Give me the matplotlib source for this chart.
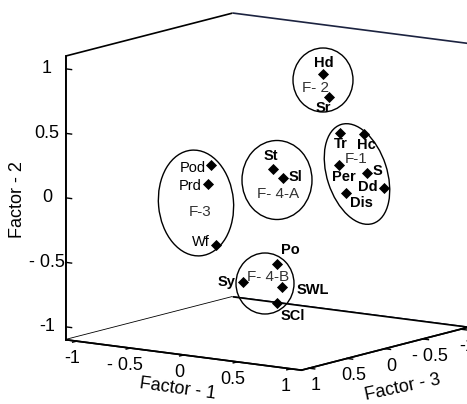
import numpy as np
import matplotlib
matplotlib.use('Agg')
import matplotlib.pyplot as plt
from matplotlib.patches import Ellipse
from mpl_toolkits.mplot3d import proj3d

plt.rcParams['font.family'] = ['Liberation Sans', 'DejaVu Sans']

# ---------------- data ----------------
labels  = ['Hd', 'Sr', 'Tr', 'Hc', 'Per', 'S', 'Dd', 'Dis', 'St', 'Sl',
           'Pod', 'Prd', 'Wf', 'Po', 'Sy', 'SWL', 'SCl']
factor1 = [0.38, 0.44, 0.82, 0.83, 0.81, 0.86, 0.88, 0.81, 0.27, 0.36,
           0.04, 0.01, 0.09, 0.23, -0.08, 0.28, 0.23]
factor2 = [0.92, 0.75, 0.57, 0.52, 0.32, 0.22, 0.08, 0.09, 0.25, 0.19,
           0.33, 0.18, -0.28, -0.51, -0.68, -0.68, -0.81]
factor3 = [-0.2, -0.2, 0.2, -0.1, 0.2, -0.1, -0.3, 0.1, 0.3, 0.3,
           0.8, 0.8, 0.8, 0.2, 0.2, 0.2, 0.2]
bold_labels = [True] * 10 + [False] * 3 + [True] * 4

tick_vals = [-1, -0.5, 0, 0.5, 1]
tick_text = ['-1', '- 0.5', '0', '0.5', '1']

group_names = ['F- 2', 'F-1', 'F- 4-A', 'F-3', 'F- 4-B']
axis_titles = ['Factor - 1', 'Factor - 2', 'Factor - 3']

# ---------------- layout (pixels, y down) ----------------
W, H = 467, 404
label_offsets = {  # (dx, dy, ha)
    'Hd': (1, -11, 'center'), 'Sr': (-6, 11, 'center'), 'Tr': (1, 11, 'center'),
    'Hc': (3, 11, 'center'), 'Per': (5, 12, 'center'), 'S': (11, -2, 'center'),
    'Dd': (-16, -1, 'center'), 'Dis': (15, 10, 'center'), 'St': (-2, -13, 'center'),
    'Sl': (13, -1, 'center'), 'Pod': (-5, 3, 'right'), 'Prd': (-6, 2, 'right'),
    'Wf': (-6, -3, 'right'), 'Po': (14, -14, 'center'), 'Sy': (-8, 0, 'right'),
    'SWL': (15, 3, 'left'), 'SCl': (16, 13, 'center'),
}
group_text_pos = [(315, 88), (356, 159), (278, 194), (200, 212), (268, 277)]
ellipses = [  # cx, cy, w, h, angle
    (323, 80, 60, 64, 0),
    (357, 174, 60, 104, -18),
    (277, 180, 70, 79, 0),
    (196, 203, 75, 106, -5),
    (265, 283.5, 58, 61, 0),
]
title_pos = [(178, 389, -8), (17, 200, 90), (403, 388, 12)]
zlabel_dx = -19

fig = plt.figure(figsize=(W / 100, H / 100), dpi=100)
side = 560.0
base_l, base_b = (W - side) / 2, (H - side) / 2
ax = fig.add_axes([base_l / W, base_b / H, side / W, side / H],
                  projection='3d', proj_type='ortho')
ax.view_init(elev=10.5, azim=-54.7)
ax.set_xlim(-1.1, 1.1)
ax.set_ylim(1.1, -1.1)
ax.set_zlim(-1.1, 1.1)
ax.set_box_aspect((1, 1, 1), zoom=1.0)

ax.scatter(factor1, factor3, factor2, marker='D', s=32, c='black',
           depthshade=False, clip_on=False, linewidths=0)

for a in (ax.xaxis, ax.yaxis, ax.zaxis):
    a.set_pane_color((1, 1, 1, 1))
    a.pane.set_edgecolor('black')
    a.pane.set_linewidth(1.2)
    a.line.set_color('black')
    a.line.set_linewidth(1.2)
    a._axinfo['tick']['inward_factor'] = 0.3
    a._axinfo['tick']['outward_factor'] = 0.0
    a._axinfo['tick']['linewidth'] = {True: 1.0, False: 0.5}
    a._axinfo['tick']['color'] = 'black'
ax.yaxis.pane.set_edgecolor('#1c2340')
ax.grid(False)
ax.zaxis.set_ticks_position('upper')
ax.zaxis.set_label_position('upper')

ax.set_xticks(tick_vals)
ax.set_xticklabels(tick_text)
ax.set_yticks(tick_vals)
ax.set_yticklabels(tick_text)
ax.set_zticks(tick_vals)
ax.set_zticklabels([''] * len(tick_vals))
ax.tick_params(axis='both', labelsize=13, colors='black', pad=-2)


def to_disp(x, y, z):
    M = ax.get_proj()
    xs, ys, _ = proj3d.proj_transform(np.asarray(x, float), np.asarray(y, float),
                                      np.asarray(z, float), M)
    return ax.transData.transform(np.column_stack([xs, ys]))


# fit the box onto the reference corners
cx_ = [-1.1, 1.1, -1.1, -1.1, -1.1, 1.1]
cy_ = [1.1, 1.1, -1.1, 1.1, -1.1, -1.1]
cz_ = [-1.1, -1.1, -1.1, 1.1, 1.1, -1.1]
targets = np.array([(67, 340), (300, 370), (233, 300), (67, 54), (233, 12), (467, 327)], float)
targets[:, 1] = H - targets[:, 1]

fig.canvas.draw()
D1 = to_disp(cx_, cy_, cz_)
ax.set_box_aspect((1, 1, 1), zoom=2.0)
fig.canvas.draw()
D2 = to_disp(cx_, cy_, cz_)
f = 2 * D1 - D2
A = np.zeros((12, 3)); bvec = np.zeros(12)
for i in range(6):
    A[2 * i] = [D1[i, 0] - f[i, 0], 1, 0]
    A[2 * i + 1] = [D1[i, 1] - f[i, 1], 0, 1]
    bvec[2 * i] = targets[i, 0] - f[i, 0]
    bvec[2 * i + 1] = targets[i, 1] - f[i, 1]
zf, tx, ty = np.linalg.lstsq(A, bvec, rcond=None)[0]
ax.set_box_aspect((1, 1, 1), zoom=zf)
ax.set_position([(base_l + tx) / W, (base_b + ty) / H, side / W, side / H])
fig.canvas.draw()

# overlay for annotations
ov = fig.add_axes([0, 0, 1, 1])
ov.set_xlim(0, W)
ov.set_ylim(H, 0)
ov.axis('off')
ov.patch.set_alpha(0)

# Factor-2 tick labels, placed at the projected tick positions
ZT = to_disp([-1.1] * len(tick_vals), [1.1] * len(tick_vals), tick_vals)
for (zx, zy), t in zip(ZT, tick_text):
    ov.text(zx + zlabel_dx, H - zy, t, ha='center', va='center', fontsize=13,
            color='black')

P = to_disp(factor1, factor3, factor2)
for i, lab in enumerate(labels):
    mx, my = P[i, 0], H - P[i, 1]
    dx, dy, ha = label_offsets[lab]
    ov.text(mx + dx, my + dy, lab, ha=ha, va='center', fontsize=10.5,
            fontweight='bold' if bold_labels[i] else 'normal', color='black')

for (tx_, ty_), g in zip(group_text_pos, group_names):
    ov.text(tx_, ty_, g, ha='center', va='center', fontsize=11, color='#333333')

for (ecx, ecy, ew, eh, ea) in ellipses:
    ov.add_patch(Ellipse((ecx, ecy), ew, eh, angle=ea, fill=False,
                         edgecolor='black', linewidth=1.0))

for (px, py, rot), t in zip(title_pos, axis_titles):
    ov.text(px, py, t, ha='center', va='center', rotation=rot,
            rotation_mode='anchor', fontsize=13, color='black')

fig.savefig('out.png', dpi=100)
